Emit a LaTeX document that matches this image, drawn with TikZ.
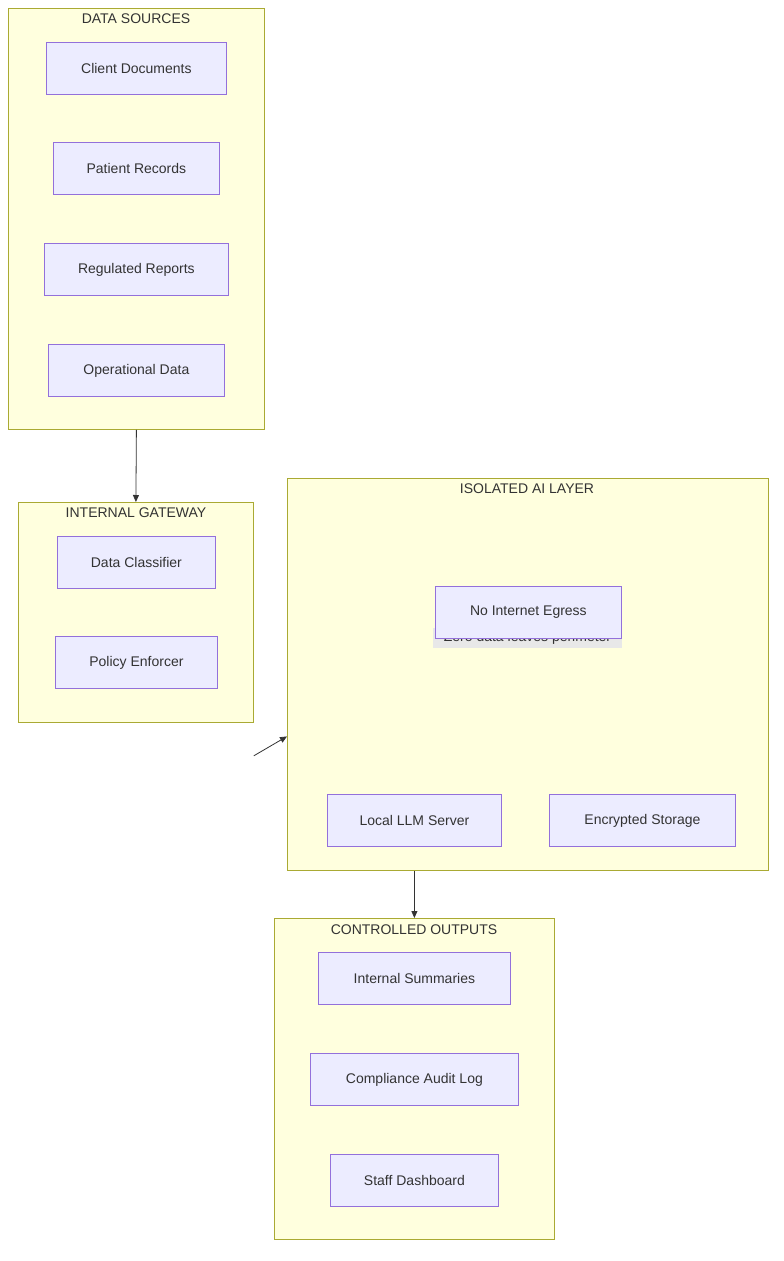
\documentclass[tikz,border=0pt]{standalone}
\usepackage{fontspec}
\setmainfont{Liberation Sans}
\usetikzlibrary{arrows.meta}
\definecolor{clfill}{HTML}{FFFFDE}
\definecolor{clline}{HTML}{AAAA33}
\definecolor{ndfill}{HTML}{ECECFF}
\definecolor{ndline}{HTML}{9370DB}
\definecolor{txt}{HTML}{333333}
\begin{document}
\begin{tikzpicture}[x=1pt,y=-1pt,
  every node/.style={font=\fontsize{14}{17}\selectfont, text=txt, inner sep=0pt},
  cluster/.style={draw=clline, fill=clfill, line width=0.8pt, anchor=north west},
  box/.style={draw=ndline, fill=ndfill, line width=0.8pt, anchor=north west},
  ttl/.style={anchor=center},
  arr/.style={draw=txt, line width=0.8pt, -{Triangle[length=7pt,width=6pt]}}]
\useasboundingbox (0,0) rectangle (784,1261);
\fill[white] (0,0) rectangle (784,1261);
% clusters
\node[cluster, minimum width=256pt, minimum height=421pt] (ds) at (8,8) {};
\node[ttl] (dst) at (136,19) {DATA SOURCES};
\node[cluster, minimum width=235pt, minimum height=220pt] (gw) at (18,502) {};
\node[ttl] (gwt) at (136,513) {INTERNAL GATEWAY};
\node[cluster, minimum width=481pt, minimum height=392pt] (ai) at (287,478) {};
\node[ttl] (ait) at (527,489) {ISOLATED AI LAYER};
\node[cluster, minimum width=280pt, minimum height=321pt] (out) at (274,918) {};
\node[ttl] (outt) at (414,930) {CONTROLLED OUTPUTS};
% data sources
\node[box, minimum width=180pt, minimum height=52pt] (cd) at (46,42) {};
\node at (cd.center) {Client Documents};
\node[box, minimum width=166pt, minimum height=52pt] (pr) at (53,142) {};
\node at (pr.center) {Patient Records};
\node[box, minimum width=184pt, minimum height=52pt] (rr) at (44,243) {};
\node at (rr.center) {Regulated Reports};
\node[box, minimum width=176pt, minimum height=52pt] (od) at (48,344) {};
\node at (od.center) {Operational Data};
% gateway
\node[box, minimum width=158pt, minimum height=52pt] (dc) at (57,536) {};
\node at (dc.center) {Data Classifier};
\node[box, minimum width=162pt, minimum height=52pt] (pe) at (55,636) {};
\node at (pe.center) {Policy Enforcer};
% AI layer
\node[fill=black!9, minimum width=189pt, minimum height=20pt] (lbl) at (527.5,638) {Zero data leaves perimeter};
\node[box, minimum width=186pt, minimum height=52pt] (nie) at (435,586) {};
\node at (nie.center) {No Internet Egress};
\node[box, minimum width=174pt, minimum height=52pt] (llm) at (327,794) {};
\node at (llm.center) {Local LLM Server};
\node[box, minimum width=186pt, minimum height=52pt] (es) at (549,794) {};
\node at (es.center) {Encrypted Storage};
% outputs
\node[box, minimum width=192pt, minimum height=52pt] (is) at (318,952) {};
\node at (is.center) {Internal Summaries};
\node[box, minimum width=208pt, minimum height=52pt] (cal) at (310,1053) {};
\node at (cal.center) {Compliance Audit Log};
\node[box, minimum width=168pt, minimum height=52pt] (sd) at (330,1154) {};
\node at (sd.center) {Staff Dashboard};
% arrows
\draw[arr] (ds.south) -- (gw.north);
\draw[arr] ([yshift=-33pt]gw.south east) -- ([yshift=-62pt]ai.west);
\draw[arr] (ai.south -| llm.center) -- (out.north -| llm.center);
\end{tikzpicture}
\end{document}
